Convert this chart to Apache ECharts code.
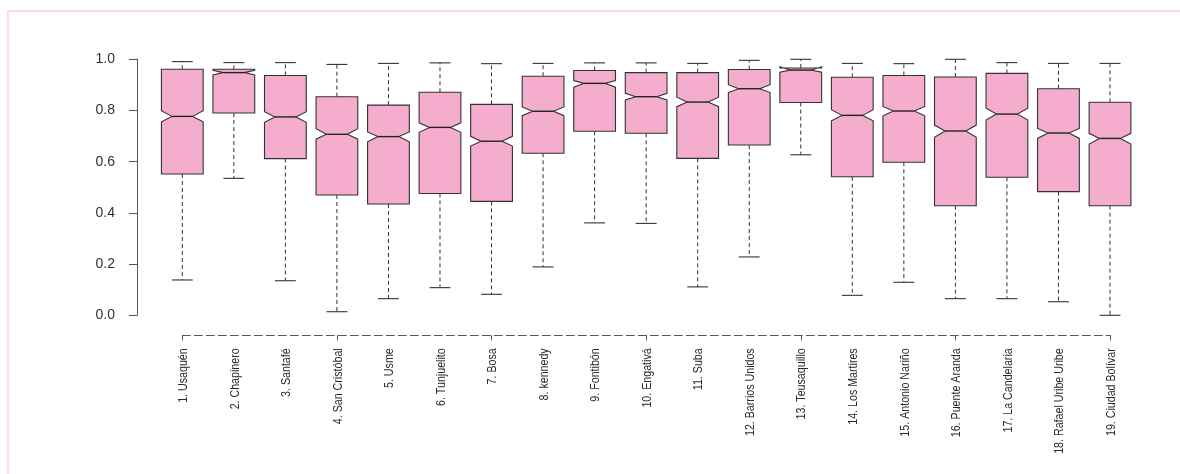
<!DOCTYPE html>
<html>
<head>
<meta charset="utf-8">
<script src="https://cdn.jsdelivr.net/npm/echarts@6/dist/echarts.min.js"></script>
<style>
html,body{margin:0;padding:0;background:#fff;}
#chart{width:1180px;height:474px;}
</style>
</head>
<body>
<div id="chart"></div>
<script>
var categories = ['1. Usaquén','2. Chapinero','3. Santafé','4. San Cristóbal','5. Usme','6. Tunjuelito','7. Bosa','8. kennedy','9. Fontibón','10. Engativá','11. Suba','12. Barrios Unidos','13. Teusaquillo','14. Los Martires','15. Antonio Nariño','16. Puente Aranda','17. La Candelaria','18. Rafael Uribe Uribe','19. Ciudad Bolívar'];
var whiskerLow  = [0.138,0.535,0.135,0.014,0.065,0.108,0.082,0.189,0.361,0.359,0.111,0.228,0.627,0.078,0.129,0.065,0.065,0.053,0.000];
var quart1      = [0.552,0.790,0.612,0.470,0.435,0.476,0.445,0.633,0.719,0.711,0.613,0.665,0.831,0.541,0.598,0.428,0.539,0.483,0.428];
var medians     = [0.777,0.948,0.775,0.707,0.698,0.734,0.680,0.797,0.906,0.854,0.833,0.885,0.958,0.781,0.798,0.720,0.786,0.712,0.691];
var quart3      = [0.961,0.961,0.937,0.854,0.821,0.871,0.824,0.934,0.956,0.948,0.948,0.960,0.966,0.930,0.937,0.931,0.945,0.885,0.832];
var whiskerHigh = [0.991,0.987,0.987,0.980,0.984,0.986,0.983,0.984,0.986,0.986,0.984,0.996,1.000,0.984,0.983,1.000,0.987,0.984,0.984];
var notchLow    = [0.756,0.939,0.754,0.688,0.678,0.715,0.661,0.780,0.891,0.841,0.815,0.870,0.950,0.760,0.779,0.695,0.763,0.691,0.669];
var notchHigh   = [0.799,0.957,0.795,0.729,0.716,0.752,0.699,0.814,0.917,0.867,0.852,0.901,0.971,0.803,0.816,0.743,0.809,0.730,0.711];
var yTicks = [0, 0.2, 0.4, 0.6, 0.8, 1.0];

var data = categories.map(function(c, i){
  return [i, whiskerLow[i], quart1[i], medians[i], quart3[i], whiskerHigh[i], notchLow[i], notchHigh[i]];
});
var labelData = categories.map(function(c, i){ return [i, 0]; });

var FILL = '#f4adcc', EDGE = '#333333';
var X_OFFSET = 20;

function renderItem(params, api){
  var i = api.value(0);
  var band = api.size([1, 0])[0];
  var hw = band * 0.405;
  var nw = hw * 0.5;
  var cw = hw * 0.5;
  var p = function(v){ return api.coord([i, v]); };
  var lo = p(api.value(1)), q1 = p(api.value(2)), md = p(api.value(3)), q3 = p(api.value(4)), hi = p(api.value(5)), nl = p(api.value(6)), nh = p(api.value(7));
  var cx = md[0];
  var dashed = {stroke: EDGE, lineWidth: 1, lineDash: [4, 3]};
  var solid = {stroke: EDGE, lineWidth: 1.1};
  return {
    type: 'group',
    children: [
      {type:'line', shape:{x1:cx,y1:q3[1],x2:cx,y2:hi[1]}, style:dashed},
      {type:'line', shape:{x1:cx,y1:q1[1],x2:cx,y2:lo[1]}, style:dashed},
      {type:'line', shape:{x1:cx-cw,y1:hi[1],x2:cx+cw,y2:hi[1]}, style:solid},
      {type:'line', shape:{x1:cx-cw,y1:lo[1],x2:cx+cw,y2:lo[1]}, style:solid},
      {type:'polygon', shape:{points:[
        [cx-hw,q1[1]],[cx+hw,q1[1]],[cx+hw,nl[1]],[cx+nw,md[1]],[cx+hw,nh[1]],[cx+hw,q3[1]],
        [cx-hw,q3[1]],[cx-hw,nh[1]],[cx-nw,md[1]],[cx-hw,nl[1]]
      ]}, style:{fill:FILL, stroke:EDGE, lineWidth:1.1}},
      {type:'line', shape:{x1:cx-nw,y1:md[1],x2:cx+nw,y2:md[1]}, style:{stroke:'#222', lineWidth:1.4}}
    ]
  };
}

function renderLabel(params, api){
  var i = api.value(0);
  var pt = api.coord([i, 0]);
  return {
    type: 'text',
    x: pt[0] + 1,
    y: pt[1] + X_OFFSET + 13,
    rotation: Math.PI / 2,
    scaleX: 0.79,
    silent: true,
    style: {
      text: categories[i],
      fontSize: 13.5,
      fontFamily: '"Liberation Sans", Arial, sans-serif',
      fill: '#2a2a2a',
      align: 'right',
      verticalAlign: 'middle'
    }
  };
}

var chart = echarts.init(document.getElementById('chart'), null, {renderer:'canvas'});
chart.setOption({
  animation: false,
  backgroundColor: '#ffffff',
  graphic: [{
    type: 'polyline', silent: true,
    shape: {points: [[8, 480], [8, 11], [1190, 11]]},
    style: {fill: 'none', stroke: '#fbdbe7', lineWidth: 2}
  }],
  grid: {left: 182.3, right: 70, top: 59.3, bottom: 158.7, containLabel: false, outerBoundsMode: 'none'},
  xAxis: {
    type: 'category', data: categories, boundaryGap: false, offset: X_OFFSET,
    axisLine: {onZero: false, lineStyle: {color: '#555', width: 1, type: [8, 4]}},
    axisTick: {length: 5, lineStyle: {color: '#555'}},
    axisLabel: {show: false},
    splitLine: {show: false}
  },
  yAxis: {
    type: 'value', min: 0, max: 1, interval: 0.2, offset: 45.3,
    axisLine: {show: true, lineStyle: {color: '#555', width: 1}},
    axisTick: {show: true, length: 8, lineStyle: {color: '#555'}},
    axisLabel: {margin: 22, fontSize: 14, color: '#333',
      fontFamily: '"Liberation Sans", sans-serif',
      formatter: function(v){ return yTicks.indexOf(v) >= 0 ? v.toFixed(1) : ''; }},
    splitLine: {show: false}
  },
  series: [{
    type: 'custom', renderItem: renderItem, data: data,
    encode: {x: 0, y: [1,2,3,4,5,6,7]}
  }, {
    type: 'custom', renderItem: renderLabel, data: labelData,
    encode: {x: 0, y: 1}, silent: true
  }]
});
</script>
</body>
</html>
